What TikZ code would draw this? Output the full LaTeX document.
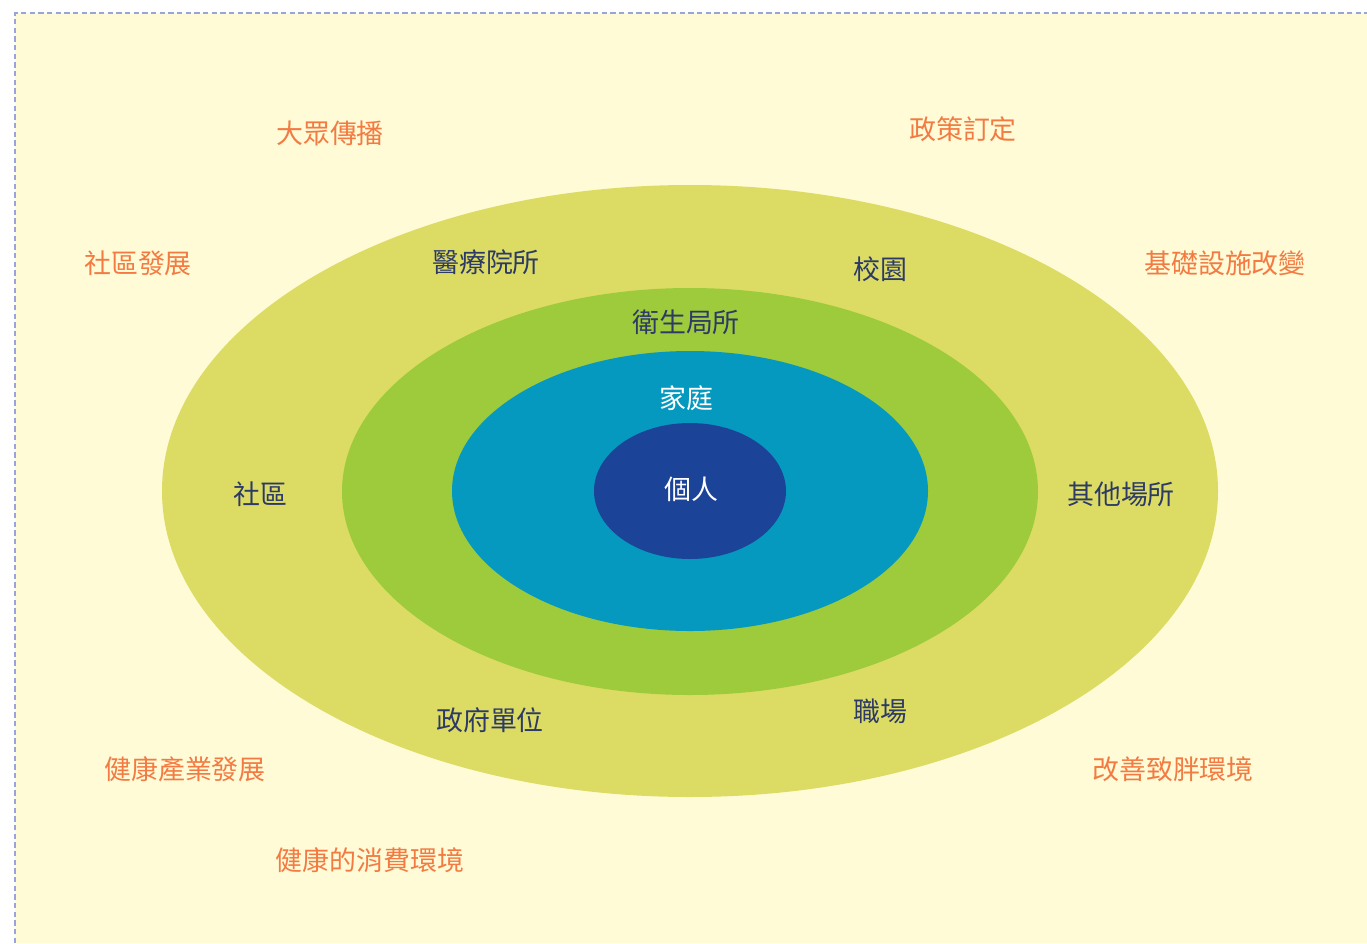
\documentclass[tikz,border=0pt]{standalone}
\usepackage{fontspec}
\setmainfont{Noto Sans CJK TC}
\definecolor{bgc}{HTML}{FFFBD6}
\definecolor{framec}{HTML}{9AA4D8}
\definecolor{outerc}{HTML}{DCDC64}
\definecolor{greenc}{HTML}{9ECB3B}
\definecolor{bluec}{HTML}{0699C0}
\definecolor{darkc}{HTML}{1B4499}
\definecolor{orangec}{HTML}{F37B43}
\definecolor{navyc}{HTML}{2D3A66}
\tikzset{
  outerlbl/.style={text=orangec, font=\fontsize{20.2}{20.2}\selectfont, inner sep=0pt},
  innerlbl/.style={text=navyc, font=\fontsize{20.2}{20.2}\selectfont, inner sep=0pt},
  whitelbl/.style={text=white, font=\fontsize{20.2}{20.2}\selectfont, inner sep=0pt},
}
\begin{document}
\begin{tikzpicture}[x=0.75pt,y=-0.75pt]
\useasboundingbox (0,0) rectangle (1367,943);
\fill[bgc] (15,13) rectangle (1367,943);
\draw[framec, line width=1.5pt, dash pattern=on 4pt off 2.5pt] (15,943) -- (15,13) -- (1367,13);
\fill[outerc] (690,491) ellipse [x radius=528, y radius=306];
\fill[greenc] (690,491.5) ellipse [x radius=348, y radius=203.5];
\fill[bluec] (690,491) ellipse [x radius=238, y radius=140];
\fill[darkc] (690,491) ellipse [x radius=96, y radius=68];
% outer labels
\node[outerlbl] (mass) at (330,133) {大眾傳播};
\node[outerlbl] (policy) at (963,129) {政策訂定};
\node[outerlbl] (commdev) at (138,263) {社區發展};
\node[outerlbl] (infra) at (1225,263) {基礎設施改變};
\node[outerlbl] (industry) at (185,769) {健康產業發展};
\node[outerlbl] (obeso) at (1173,769) {改善致胖環境};
\node[outerlbl] (consume) at (370,860) {健康的消費環境};
% setting labels
\node[innerlbl] (medical) at (486,262) {醫療院所};
\node[innerlbl] (campus) at (880,269) {校園};
\node[innerlbl] (health) at (686,322) {衛生局所};
\node[innerlbl] (community) at (260,494) {社區};
\node[innerlbl] (other) at (1121,494) {其他場所};
\node[innerlbl] (gov) at (490,720) {政府單位};
\node[innerlbl] (work) at (880,711) {職場};
\node[whitelbl] (family) at (686,398) {家庭};
\node[whitelbl] (person) at (691,489) {個人};
\end{tikzpicture}
\end{document}
